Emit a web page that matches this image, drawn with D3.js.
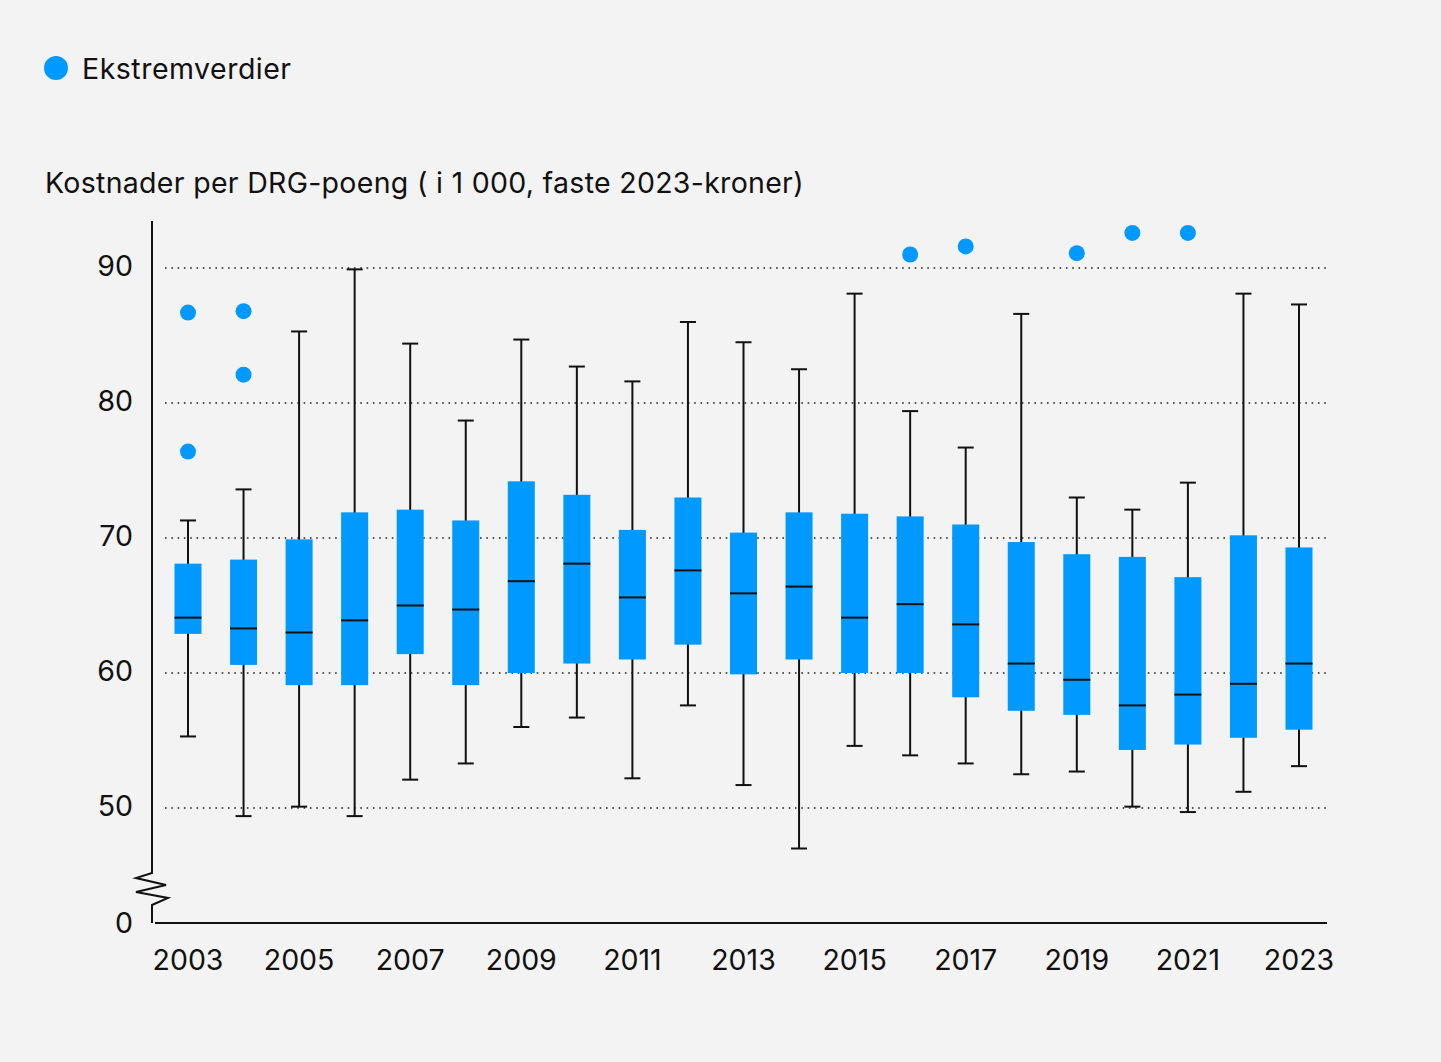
<!DOCTYPE html>
<html>
<head>
<meta charset="utf-8">
<script src="https://cdn.jsdelivr.net/npm/d3@7"></script>
<style>
  html, body { margin: 0; padding: 0; background: #f3f3f3; }
  svg { display: block; }
  text { font-family: Inter, "Noto Sans", sans-serif; fill: #111; }
</style>
</head>
<body>
<div id="chart"></div>
<script>
// data (NOK 1 000 per DRG point)
const years = ['2003','2004','2005','2006','2007','2008','2009','2010','2011','2012','2013',
  '2014','2015','2016','2017','2018','2019','2020','2021','2022','2023'];
const whiskerLow = [55.3, 49.4, 50.1, 49.4, 52.1, 53.3, 56.0, 56.7, 52.2, 57.6, 51.7,
  47.0, 54.6, 53.9, 53.3, 52.5, 52.7, 50.1, 49.7, 51.2, 53.1];
const q1 = [62.9, 60.6, 59.1, 59.1, 61.4, 59.1, 60.0, 60.7, 61.0, 62.1, 59.9,
  61.0, 60.0, 60.0, 58.2, 57.2, 56.9, 54.3, 54.7, 55.2, 55.8];
const median = [64.1, 63.3, 63.0, 63.9, 65.0, 64.7, 66.8, 68.1, 65.6, 67.6, 65.9,
  66.4, 64.1, 65.1, 63.6, 60.7, 59.5, 57.6, 58.4, 59.2, 60.7];
const q3 = [68.1, 68.4, 69.9, 71.9, 72.1, 71.3, 74.2, 73.2, 70.6, 73.0, 70.4,
  71.9, 71.8, 71.6, 71.0, 69.7, 68.8, 68.6, 67.1, 70.2, 69.3];
const whiskerHigh = [71.3, 73.6, 85.3, 89.9, 84.4, 78.7, 84.7, 82.7, 81.6, 86.0, 84.5,
  82.5, 88.1, 79.4, 76.7, 86.6, 73.0, 72.1, 74.1, 88.1, 87.3];
const outlierYears = ['2003','2003','2004','2004','2016','2017','2019','2020','2021'];
const outlierValues = [86.7, 76.4, 86.8, 82.1, 91.0, 91.6, 91.1, 92.6, 92.6];
const yTicks = [50, 60, 70, 80, 90];
const xTickLabels = ['2003','2005','2007','2009','2011','2013','2015','2017','2019','2021','2023'];

const W = 1441, H = 1062;
const blue = '#0099ff';
const fontSize = 28.5;

const svg = d3.select('#chart').append('svg')
  .attr('width', W).attr('height', H);

svg.append('rect').attr('width', W).attr('height', H).attr('fill', '#f3f3f3');

// x: point positions for years
const x = d3.scalePoint().domain(years).range([188, 1299]);
// y: broken axis, 50..90 linear, 0 sits below the break
const y = d3.scaleLinear().domain([50, 90]).range([808, 268]);
const yZero = 923;

// legend
svg.append('circle').attr('cx', 56).attr('cy', 68).attr('r', 12).attr('fill', blue);
svg.append('text').attr('x', 82).attr('y', 79)
  .style('font-size', `${fontSize}px`).style('letter-spacing', '0.5px')
  .text('Ekstremverdier');

// axis title
svg.append('text').attr('x', 45).attr('y', 193)
  .style('font-size', `${fontSize}px`).style('letter-spacing', '0.3px')
  .text('Kostnader per DRG-poeng ( i 1 000, faste 2023-kroner)');

// gridlines
svg.append('g').selectAll('line').data(yTicks).enter().append('line')
  .attr('x1', 165).attr('x2', 1327)
  .attr('y1', d => y(d)).attr('y2', d => y(d))
  .attr('stroke', '#222').attr('stroke-width', 1.6)
  .attr('stroke-dasharray', '1.6,4.7');

// y tick labels
svg.append('g').selectAll('text').data(yTicks).enter().append('text')
  .attr('x', 133).attr('y', d => y(d) + 8)
  .attr('text-anchor', 'end')
  .style('font-size', `${fontSize}px`)
  .text(d => d);
svg.append('text').attr('x', 133).attr('y', yZero + 10)
  .attr('text-anchor', 'end').style('font-size', `${fontSize}px`).text('0');

// y axis with break
svg.append('path')
  .attr('d', `M152,221 L152,873 L136,878 L166,885 L136,892 L168,898 L152,905 L152,${yZero}`)
  .attr('fill', 'none').attr('stroke', '#111').attr('stroke-width', 2);

// x axis
svg.append('line').attr('x1', 155).attr('x2', 1327)
  .attr('y1', yZero).attr('y2', yZero)
  .attr('stroke', '#111').attr('stroke-width', 2);

svg.append('g').selectAll('text').data(xTickLabels).enter().append('text')
  .attr('x', d => x(d)).attr('y', 970)
  .attr('text-anchor', 'middle')
  .style('font-size', `${fontSize}px`)
  .text(d => d);

// boxes
const boxW = 27, capW = 16;
const boxes = svg.append('g').selectAll('g').data(years).enter().append('g');

boxes.append('line')
  .attr('x1', d => x(d)).attr('x2', d => x(d))
  .attr('y1', (d, i) => y(whiskerHigh[i])).attr('y2', (d, i) => y(whiskerLow[i]))
  .attr('stroke', '#111').attr('stroke-width', 2);
boxes.append('line')
  .attr('x1', d => x(d) - capW / 2).attr('x2', d => x(d) + capW / 2)
  .attr('y1', (d, i) => y(whiskerHigh[i])).attr('y2', (d, i) => y(whiskerHigh[i]))
  .attr('stroke', '#111').attr('stroke-width', 2);
boxes.append('line')
  .attr('x1', d => x(d) - capW / 2).attr('x2', d => x(d) + capW / 2)
  .attr('y1', (d, i) => y(whiskerLow[i])).attr('y2', (d, i) => y(whiskerLow[i]))
  .attr('stroke', '#111').attr('stroke-width', 2);
boxes.append('rect')
  .attr('x', d => x(d) - boxW / 2).attr('width', boxW)
  .attr('y', (d, i) => y(q3[i]))
  .attr('height', (d, i) => y(q1[i]) - y(q3[i]))
  .attr('fill', blue);
boxes.append('line')
  .attr('x1', d => x(d) - boxW / 2).attr('x2', d => x(d) + boxW / 2)
  .attr('y1', (d, i) => y(median[i])).attr('y2', (d, i) => y(median[i]))
  .attr('stroke', '#111').attr('stroke-width', 2);

// outliers
svg.append('g').selectAll('circle').data(outlierValues).enter().append('circle')
  .attr('cx', (d, i) => x(outlierYears[i]))
  .attr('cy', d => y(d))
  .attr('r', 8)
  .attr('fill', blue);
</script>
</body>
</html>
